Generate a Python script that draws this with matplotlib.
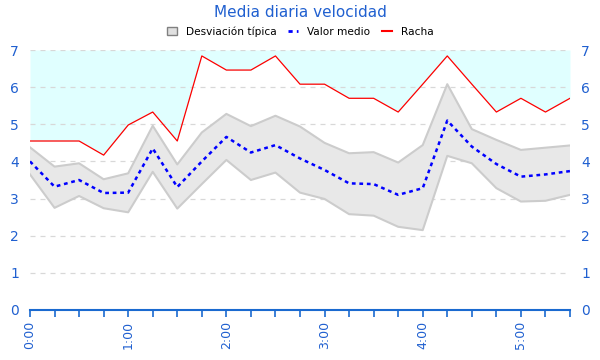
import matplotlib
matplotlib.use("Agg")
import matplotlib.pyplot as plt
from matplotlib.patches import Patch
from matplotlib.lines import Line2D
import numpy as np

times = ["0:00", "0:15", "0:30", "0:45", "1:00", "1:15", "1:30", "1:45",
         "2:00", "2:15", "2:30", "2:45", "3:00", "3:15", "3:30", "3:45",
         "4:00", "4:15", "4:30", "4:45", "5:00", "5:15", "5:30"]
racha = [4.55, 4.55, 4.55, 4.17, 4.98, 5.33, 4.55, 6.84, 6.46, 6.46, 6.84, 6.08,
         6.08, 5.70, 5.70, 5.33, 6.08, 6.84, 6.08, 5.33, 5.70, 5.33, 5.70]
medio = [4.00, 3.32, 3.50, 3.15, 3.16, 4.35, 3.31, 4.00, 4.66, 4.24, 4.44, 4.08,
         3.77, 3.41, 3.39, 3.10, 3.28, 5.10, 4.40, 3.93, 3.59, 3.65, 3.74]
std_sup = [4.38, 3.86, 3.95, 3.52, 3.68, 4.96, 3.92, 4.78, 5.28, 4.95, 5.23, 4.94,
           4.50, 4.22, 4.25, 3.97, 4.44, 6.08, 4.87, 4.58, 4.31, 4.37, 4.43]
std_inf = [3.65, 2.75, 3.07, 2.74, 2.63, 3.72, 2.73, 3.39, 4.04, 3.50, 3.70, 3.16,
           2.99, 2.58, 2.54, 2.24, 2.15, 4.15, 3.95, 3.28, 2.92, 2.94, 3.10]
yticks = [0, 1, 2, 3, 4, 5, 6, 7]

blue_txt = "#2060d0"
x = np.arange(len(times))

fig = plt.figure(figsize=(6, 3.6), dpi=100)
ax = fig.add_axes([0.05, 0.1389, 0.90, 0.7222])

ax.fill_between(x, racha, 7, color="#e0ffff", lw=0, zorder=1)
for yv in yticks[1:]:
    ax.axhline(yv, color="#d8d8d8", lw=0.9, ls=(0, (4, 4)), zorder=1.5)
ax.fill_between(x, std_inf, std_sup, facecolor="#e8e8e8", edgecolor="none", zorder=2)
ax.plot(x, std_sup, color="#cccccc", lw=1.5, zorder=2.5)
ax.plot(x, std_inf, color="#cccccc", lw=1.5, zorder=2.5)
ax.plot(x, racha, color="red", lw=0.9, zorder=3)
ax.plot(x, medio, color="blue", lw=1.8, ls=(0, (1.5, 1.5)), zorder=4)

ax.set_xlim(0, len(times) - 1)
ax.set_ylim(0, 7)
ax.set_yticks(yticks)
ax.set_yticklabels([str(v) for v in yticks])
ax.tick_params(axis="y", length=0, colors=blue_txt, labelsize=10, pad=8,
               labelleft=True, labelright=True)
ax.set_xticks(x)
ax.set_xticklabels([t if t.endswith(":00") else "" for t in times], rotation=90)
ax.tick_params(axis="x", length=5, color="#1a6ad0", width=1.2, colors=blue_txt,
               labelsize=9, pad=3)
for s in ["left", "right", "top"]:
    ax.spines[s].set_visible(False)
ax.spines["bottom"].set_color("#1a6ad0")
ax.spines["bottom"].set_linewidth(1.5)
ax.set_facecolor("white")

fig.text(0.5, 0.965, "Media diaria velocidad", ha="center", va="center",
         color=blue_txt, fontsize=11)
handles = [
    Patch(facecolor="#e0e0e0", edgecolor="#808080", label="Desviación típica"),
    Line2D([0], [0], color="blue", lw=2, ls=(0, (1.5, 1.5)), label="Valor medio"),
    Line2D([0], [0], color="red", lw=1.5, label="Racha"),
]
fig.legend(handles=handles, loc="center", bbox_to_anchor=(0.5, 0.913), ncol=3,
           frameon=False, fontsize=7.6, handlelength=1.0, handleheight=0.8,
           columnspacing=1.1, handletextpad=0.8)

fig.savefig("out.png", dpi=100)
